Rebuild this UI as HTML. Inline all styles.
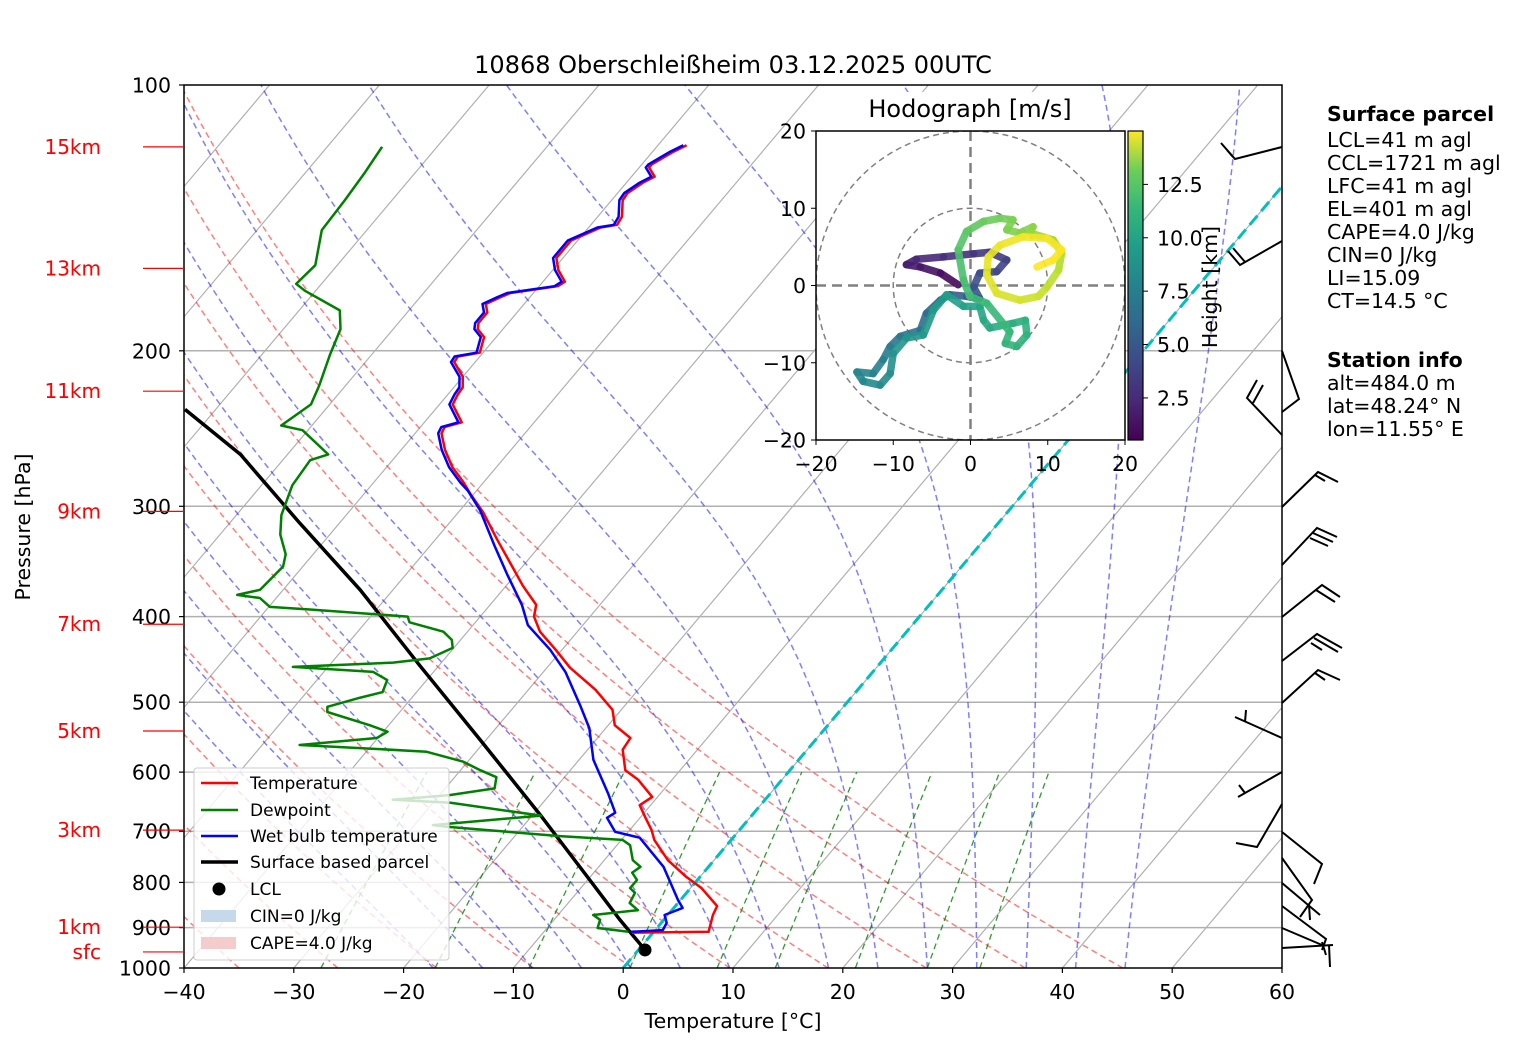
<!DOCTYPE html>
<html><head><meta charset="utf-8">
<style>
html,body{margin:0;padding:0;background:#fff;}
svg{display:block;font-family:"DejaVu Sans","Liberation Sans",sans-serif;}
</style></head>
<body>
<svg id="chart" width="1517" height="1054" viewBox="0 0 1517 1054" xmlns="http://www.w3.org/2000/svg">
<defs>
<clipPath id="mainClip"><rect x="184" y="85" width="1098" height="883"/></clipPath>
<clipPath id="hodoClip"><rect x="816" y="131" width="309" height="309"/></clipPath>
<linearGradient id="viridis" x1="0" y1="1" x2="0" y2="0">
<stop offset="0" stop-color="#440154"/><stop offset="0.125" stop-color="#482878"/><stop offset="0.25" stop-color="#3e4989"/><stop offset="0.375" stop-color="#31688e"/><stop offset="0.5" stop-color="#26828e"/><stop offset="0.625" stop-color="#1f9e89"/><stop offset="0.75" stop-color="#35b779"/><stop offset="0.875" stop-color="#6ece58"/><stop offset="1" stop-color="#fde725"/>
</linearGradient>
</defs>
<rect width="1517" height="1054" fill="#fff"/>
<text x="733" y="73" font-size="24" text-anchor="middle">10868 Oberschleißheim 03.12.2025 00UTC</text>
<g id="bg" clip-path="url(#mainClip)"></g>
<g id="series" clip-path="url(#mainClip)"></g>
<g id="axes"></g>
<g id="barbs" stroke="#000" stroke-width="2" fill="none" stroke-linejoin="miter">
<polyline points="1282,147 1235,159 1221,143"/><line x1="1233" y1="157" x2="1227" y2="150"/>
<polyline points="1282,241 1240,265 1228,251"/><line x1="1245" y1="262" x2="1233" y2="248"/>
<polyline points="1282,351 1299,399 1282,412"/>
<polyline points="1282,435 1247,398 1257,380"/><line x1="1253" y1="403" x2="1263" y2="385"/>
<polyline points="1282,507 1318,472 1338,482"/><line x1="1315" y1="475" x2="1325" y2="481"/>
<polyline points="1282,565 1317,528 1337,537"/><line x1="1313" y1="533" x2="1333" y2="542"/><line x1="1310" y1="538" x2="1328" y2="546"/>
<polyline points="1282,617 1322,585 1340,597"/><line x1="1316" y1="590" x2="1335" y2="602"/>
<polyline points="1282,661 1317,634 1342,648"/><line x1="1314" y1="638" x2="1338" y2="652"/><line x1="1311" y1="643" x2="1322" y2="650"/>
<polyline points="1282,703 1318,670 1340,680"/><line x1="1315" y1="673" x2="1325" y2="680"/>
<polyline points="1282,738 1235,717"/><line x1="1245" y1="722" x2="1246" y2="710"/>
<polyline points="1282,772 1238,797"/><line x1="1245" y1="793" x2="1239" y2="785"/>
<polyline points="1282,804 1257,847 1236,843"/>
<polyline points="1282,832 1322,864 1314,884"/>
<polyline points="1282,858 1312,900 1300,917"/><line x1="1309" y1="905" x2="1310" y2="920"/>
<polyline points="1282,883 1320,915"/>
<polyline points="1282,906 1326,939 1322,950"/>
<polyline points="1282,928 1322,945"/>
<polyline points="1282,948 1333,945"/><line x1="1329" y1="945" x2="1330" y2="967"/><line x1="1322" y1="942" x2="1326" y2="955"/>
</g>
<g id="legend" font-size="17">
<rect x="194" y="768" width="255" height="192" fill="#fff" fill-opacity="0.8" stroke="#ccc" stroke-width="1" rx="3"/>
<g><line x1="201" y1="783" x2="238" y2="783" stroke="red" stroke-width="2.5"/><text x="250" y="789">Temperature</text></g>
<g><line x1="201" y1="810" x2="238" y2="810" stroke="green" stroke-width="2.5"/><text x="250" y="816">Dewpoint</text></g>
<g><line x1="201" y1="836" x2="238" y2="836" stroke="blue" stroke-width="2.5"/><text x="250" y="842">Wet bulb temperature</text></g>
<g><line x1="201" y1="862" x2="238" y2="862" stroke="#000" stroke-width="3.5"/><text x="250" y="868">Surface based parcel</text></g>
<g><circle cx="219" cy="889" r="6.5" fill="#000"/><text x="250" y="895">LCL</text></g>
<g><rect x="201" y="910" width="35" height="12" fill="#c5d9ea"/><text x="250" y="922">CIN=0 J/kg</text></g>
<g><rect x="201" y="937" width="35" height="12" fill="#f4cccc"/><text x="250" y="949">CAPE=4.0 J/kg</text></g>
</g>
<g id="hodo"></g>
<g id="info" font-size="20.5">
<text x="1327" y="121" font-weight="bold">Surface parcel</text>
<text x="1327" y="147">LCL=41 m agl</text>
<text x="1327" y="170">CCL=1721 m agl</text>
<text x="1327" y="193">LFC=41 m agl</text>
<text x="1327" y="216">EL=401 m agl</text>
<text x="1327" y="239">CAPE=4.0 J/kg</text>
<text x="1327" y="262">CIN=0 J/kg</text>
<text x="1327" y="285">LI=15.09</text>
<text x="1327" y="308">CT=14.5 °C</text>
<text x="1327" y="367" font-weight="bold">Station info</text>
<text x="1327" y="390">alt=484.0 m</text>
<text x="1327" y="413">lat=48.24° N</text>
<text x="1327" y="436">lon=11.55° E</text>
</g>
</svg>
<script>
// ---------- data ----------
const tempP = [912,910,871,851,812,787,755,716,698,676,654,640,612,597,566,549,531,510,484,457,436,416,400,388,369,352,327,305,290,282,271,259,248,244,241,230,224,220,214,206,203,201,193,189,186,181,177,174,172,169,167,162,157,150,145,144,141,135,132.5,129,127,124,123,119,117];
const tempT = [-1.9,5.0,4.1,3.8,1.0,-1.4,-4.2,-7.0,-8.0,-9.5,-11.0,-10.5,-13.1,-15.0,-16.8,-17.0,-19.4,-20.8,-23.9,-27.9,-30.6,-33.4,-35.1,-35.8,-38.5,-40.8,-44.4,-47.7,-50.4,-51.8,-54.0,-56.0,-57.6,-57.8,-56.6,-58.8,-59.1,-59.2,-60.0,-61.9,-62.0,-60.3,-61.1,-62.3,-62.7,-62.7,-63.5,-62.7,-62.1,-58.3,-58.0,-59.5,-60.6,-60.6,-58.9,-57.6,-57.8,-59.0,-59.1,-58.5,-57.9,-59.1,-59.1,-58.1,-57.4];
const wetP = [910,906,889,871,855,838,768,712,701,676,667,634,581,535,504,462,436,409,388,359,332,303,288,282,271,259,248,244,241,230,224,220,214,206,203,201,193,189,186,181,177,174,172,169,167,162,157,150,145,144,141,135,132.5,129,127,124,123,119,117];
const wetT = [-2.1,0.7,0.5,-0.3,0.8,-0.2,-4.1,-8.5,-11.2,-13.0,-12.65,-14.8,-18.7,-21.5,-24.1,-28.0,-31.1,-35.0,-37.1,-40.7,-44.2,-48.2,-50.8,-52.1,-54.3,-56.3,-57.9,-58.1,-56.9,-59.1,-59.4,-59.5,-60.3,-62.2,-62.3,-60.6,-61.4,-62.6,-63.0,-63.0,-63.8,-63.0,-62.4,-58.6,-58.3,-59.8,-60.9,-60.9,-59.2,-57.9,-58.1,-59.3,-59.4,-58.8,-58.2,-59.4,-59.4,-58.4,-57.7];
const dewP = [910,901,882,871,860,844,822,812,795,780,768,755,726,716,709,692,689,672,650,645,637,626,608,597,584,569,565,559,549,540,531,513,506,494,487,472,462,456,451,446,434,425,416,406,400,393,390,381,378,373,351,340,323,307,284,266,262,246,243,230,219,202,189,180,171,168,160,146,135,125.5,117.5];
const dewT = [-2.3,-5.4,-5.8,-6.8,-3.1,-4.4,-4.7,-5.5,-5.5,-6.5,-6.2,-7.4,-8.8,-9.9,-15.9,-26.9,-28.3,-19.2,-28.4,-33.9,-29.1,-25.5,-26.2,-28.2,-30.4,-34.5,-39.0,-46.6,-40.1,-39.6,-41.7,-46.6,-47.0,-44.7,-43.1,-43.6,-45.5,-53.2,-44.4,-41.4,-40.1,-40.8,-42.2,-46.0,-46.6,-55.7,-59.9,-61.5,-63.8,-62.1,-61.8,-62.5,-64.5,-65.9,-67.2,-67.5,-66.3,-70.5,-72.8,-71.7,-72.4,-73.8,-74.8,-76.3,-81.0,-82.3,-82.0,-84.1,-84.3,-84.6,-85.0];
const parcelP = [954,882,795,671,552,454,373,313,262,233];
const parcelT = [0.6,-4.0,-9.8,-19.3,-30.5,-41.8,-53.0,-63.7,-74.3,-82.8];
const lclP = [954];
const lclT = [0.6];
const pressureTicks = [100,200,300,400,500,600,700,800,900,1000];
const tempTicks = [-40,-30,-20,-10,0,10,20,30,40,50,60];
const heightLabels = ['15km','13km','11km','9km','7km','5km','3km','1km','sfc'];
const heightP = [117.5,161.3,222.2,304.0,408.0,539,698,899,959];
const dryT0 = [-35,-26,-17,-8.2,0.8,9.7,18.65,27.6,36.6,45.5];
const moistT0 = [-17.3,-12.8,-8.3,-3.8,0.7,5.2,9.7,14.2,18.7,23.2,27.7,32.2,36.7,41.2,45.7];
const mixRatios = [0.0004,0.001,0.002,0.004,0.007,0.01,0.016,0.024,0.032];
const hodoU = [-1.6,-3.9,-6.5,-8.3,-7.0,-3.5,0.4,2.5,4.7,3.4,1.2,0.4,1.2,-0.5,-2.7,-3.9,-5.7,-6.5,-9.1,-10.4,-11.3,-12.6,-14.7,-13.9,-11.7,-10.4,-10.0,-8.3,-6.1,-4.8,-3.1,-0.9,1.2,1.7,2.5,5.5,7.1,7.3,6.0,4.5,5.1,2.1,-0.1,-0.9,-1.6,-0.5,1.7,3.8,5.5,4.7,6.4,8.1,7.7,10.7,11.8,11.4,9.9,8.8,6.4,3.4,2.1,2.3,3.8,6.8,9.9,11.8,10.7,8.6];
const hodoV = [0.1,1.6,2.4,2.7,3.4,3.7,4.1,4.3,3.3,1.8,1.6,-0.2,-1.7,-1.4,-1.2,-1.9,-3.6,-5.8,-6.6,-7.9,-9.6,-11.4,-11.2,-12.4,-12.9,-11.4,-8.8,-6.8,-6.4,-3.2,-1.2,-2.7,-2.7,-4.5,-5.5,-4.9,-4.5,-6.4,-7.9,-7.5,-6.0,-2.3,-1.4,0.7,4.6,7.0,8.3,8.7,8.5,7.2,6.8,7.6,6.8,5.9,4.2,2.0,-0.2,-1.4,-1.9,-1.0,1.4,3.7,5.2,6.3,6.1,4.6,3.3,2.4];
const hodoH = [0.6,1.0,1.3,1.6,1.9,2.3,2.7,3.0,3.3,3.6,3.9,4.2,4.4,4.6,4.9,5.2,5.5,5.8,6.1,6.4,6.7,6.9,7.1,7.3,7.5,7.6,7.8,8.0,8.1,8.3,8.5,8.7,8.9,9.1,9.3,9.5,9.6,9.8,9.9,10.0,10.1,10.3,10.4,10.6,10.9,11.2,11.5,11.8,12.0,12.1,12.2,12.4,12.6,12.9,13.2,13.4,13.6,13.8,14.0,14.2,14.4,14.5,14.6,14.7,14.8,14.9,15.0,15.0];
const hodoTicks = [-20,-10,0,10,20];
const cbarTicks = [2.5,5.0,7.5,10.0,12.5];

// ---------- axes functions ----------
const X0=184,X1=1282,Y0=968,Y1=85,PH=883,SX=10.98,SK=0.843;
function yOf(p){return Y0-Math.log10(1000/p)*PH;}
function xOf(T,p){return X0+(T+40)*SX+(Y0-yOf(p))*SK;}
const NS='http://www.w3.org/2000/svg';
function mk(tag,attrs,parent){const e=document.createElementNS(NS,tag);for(const k in attrs)e.setAttribute(k,attrs[k]);parent.appendChild(e);return e;}
const bg=document.getElementById('bg'), ser=document.getElementById('series'), ax=document.getElementById('axes'), hodo=document.getElementById('hodo');
function pathFrom(P,T){let d='';for(let i=0;i<P.length;i++){d+=(i?'L':'M')+xOf(T[i],P[i]).toFixed(1)+','+yOf(P[i]).toFixed(1);}return d;}

pressureTicks.forEach(p=>{if(p===100||p===1000)return;
const l=mk('line',{x1:X0,x2:X1,y1:yOf(p),y2:yOf(p),stroke:'#b0b0b0','stroke-width':1.5},bg);

});
for(let T=-130;T<=60;T+=10){
const l=mk('line',{x1:xOf(T,1000),y1:yOf(1000),x2:xOf(T,100),y2:yOf(100),stroke:'#b0b0b0','stroke-width':1.2},bg);

}
const plev=[];for(let p=1000;p>=100;p-=10)plev.push(p);
dryT0.forEach(t0=>{const T=plev.map(p=>(t0+273.15)*Math.pow(p/1000,0.2857)-273.15);
const e=mk('path',{d:pathFrom(plev,T),stroke:'#ff0000','stroke-opacity':0.5,'stroke-width':1.5,'stroke-dasharray':'6,4',fill:'none'},bg);

});
moistT0.forEach(t0=>{let T=t0+273.15;const Ps=[],Ts=[];
for(let p=1000;p>=100;p-=5){Ps.push(p);Ts.push(T-273.15);
const es=6.112*Math.exp(17.67*(T-273.15)/(T-29.65));const rs=0.622*es/Math.max(p-es,1);
const num=287*T+2.501e6*rs;const den=1005+2.501e6*2.501e6*rs*0.622/(287*T*T);T-=num/(den*p)*5;}
const e=mk('path',{d:pathFrom(Ps,Ts),stroke:'#0000ff','stroke-opacity':0.5,'stroke-width':1.5,'stroke-dasharray':'6,4',fill:'none'},bg);

});
mixRatios.forEach(w=>{const Ps=[],Ts=[];for(let p=1000;p>=600;p-=20){const e=p*w/(0.622+w);const l=Math.log(e/6.112);Ps.push(p);Ts.push(243.5*l/(17.67-l));}
const e=mk('path',{d:pathFrom(Ps,Ts),stroke:'#008000','stroke-opacity':0.8,'stroke-width':1.3,'stroke-dasharray':'6,4',fill:'none'},bg);

});
const zl=mk('line',{x1:xOf(0,1000),y1:yOf(1000),x2:xOf(0,100),y2:yOf(100),stroke:'#00bfbf','stroke-width':3,'stroke-dasharray':'12,6'},bg);



const sp=mk('path',{d:pathFrom(parcelP,parcelT),stroke:'#000','stroke-width':3.5,fill:'none'},ser);


const dp=mk('path',{d:pathFrom(dewP,dewT),stroke:'green','stroke-width':2.5,fill:'none','stroke-linejoin':'round'},ser);


const tp=mk('path',{d:pathFrom(tempP,tempT),stroke:'red','stroke-width':2.5,fill:'none','stroke-linejoin':'round'},ser);


const wp=mk('path',{d:pathFrom(wetP,wetT),stroke:'blue','stroke-width':2.5,fill:'none','stroke-linejoin':'round'},ser);


const lc=mk('circle',{cx:xOf(lclT[0],lclP[0]),cy:yOf(lclP[0]),r:6.5,fill:'#000'},ser);



const fr=mk('rect',{x:X0,y:Y1,width:X1-X0,height:Y0-Y1,fill:'none',stroke:'#000','stroke-width':1.5},ax);


pressureTicks.forEach(p=>{mk('line',{x1:X0-5,x2:X0,y1:yOf(p),y2:yOf(p),stroke:'#000','stroke-width':1.2},ax);
const t=mk('text',{x:X0-13,y:yOf(p)+7.5,'font-size':20.5,'text-anchor':'end'},ax);t.textContent=p;

});
tempTicks.forEach(T=>{const x=X0+(T+40)*SX;mk('line',{x1:x,x2:x,y1:Y0,y2:Y0+5,stroke:'#000','stroke-width':1.2},ax);
const t=mk('text',{x:x,y:Y0+31,'font-size':20.5,'text-anchor':'middle'},ax);t.textContent=(T<0?'\u2212'+(-T):T);

});
heightLabels.forEach((s,i)=>{const y=yOf(heightP[i]);mk('line',{x1:143,x2:X0,y1:y,y2:y,stroke:'red','stroke-width':1.2},ax);
const t=mk('text',{x:101,y:y+7,'font-size':20,'text-anchor':'end',fill:'red'},ax);t.textContent=s;

});
const xl=mk('text',{x:733,y:1028,'font-size':20.5,'text-anchor':'middle'},ax);xl.textContent='Temperature [°C]';


const yl=mk('text',{x:30,y:527,'font-size':20.5,'text-anchor':'middle',transform:'rotate(-90 30 527)'},ax);yl.textContent='Pressure [hPa]';



// ---------- hodograph ----------
const HX0=816,HY0=131,HS=309,HC=HS/40;
function hx(u){return HX0+(u+20)*HC;}
function hy(v){return HY0+(20-v)*HC;}
mk('rect',{x:855,y:92,width:232,height:39,fill:'#fff'},hodo);
mk('rect',{x:HX0,y:HY0,width:HS,height:HS,fill:'#fff'},hodo);
const ht=mk('text',{x:970,y:117,'font-size':24,'text-anchor':'middle'},hodo);ht.textContent='Hodograph [m/s]';


const hg=mk('g',{'clip-path':'url(#hodoClip)'},hodo);
[10,20].forEach(r=>{mk('circle',{cx:hx(0),cy:hy(0),r:r*HC,fill:'none',stroke:'#808080','stroke-width':1.5,'stroke-dasharray':'6,4'},hg);});
mk('line',{x1:HX0,x2:HX0+HS,y1:hy(0),y2:hy(0),stroke:'#808080','stroke-width':2.5,'stroke-dasharray':'10,6'},hg);
mk('line',{x1:hx(0),x2:hx(0),y1:HY0,y2:HY0+HS,stroke:'#808080','stroke-width':2.5,'stroke-dasharray':'10,6'},hg);
const vir=[[68,1,84],[72,40,120],[62,73,137],[49,104,142],[38,130,142],[31,158,137],[53,183,121],[110,206,88],[181,222,43],[253,231,37]];
function vcol(h){let f=(h-0.5)/14.5;f=Math.max(0,Math.min(1,f))*(vir.length-1);const i=Math.min(Math.floor(f),vir.length-2),r=f-i;const c=vir[i].map((a,k)=>Math.round(a+(vir[i+1][k]-a)*r));return 'rgb('+c.join(',')+')';}
for(let i=0;i<hodoU.length-1;i++){
const s=mk('line',{x1:hx(hodoU[i]),y1:hy(hodoV[i]),x2:hx(hodoU[i+1]),y2:hy(hodoV[i+1]),stroke:vcol((hodoH[i]+hodoH[i+1])/2),'stroke-width':7.5,'stroke-linecap':'round','stroke-opacity':0.9},hg);

}
mk('rect',{x:HX0,y:HY0,width:HS,height:HS,fill:'none',stroke:'#000','stroke-width':1.5},hodo);
hodoTicks.forEach(v=>{mk('line',{x1:HX0-5,x2:HX0,y1:hy(v),y2:hy(v),stroke:'#000'},hodo);
const t=mk('text',{x:HX0-10,y:hy(v)+7.5,'font-size':20.5,'text-anchor':'end'},hodo);t.textContent=(v<0?'\u2212'+(-v):v);


mk('line',{x1:hx(v),x2:hx(v),y1:HY0+HS,y2:HY0+HS+5,stroke:'#000'},hodo);
const t2=mk('text',{x:hx(v),y:HY0+HS+31,'font-size':20.5,'text-anchor':'middle'},hodo);t2.textContent=(v<0?'\u2212'+(-v):v);

});
const cb=mk('rect',{x:1128,y:131,width:15,height:309,fill:'url(#viridis)',stroke:'#000','stroke-width':1.2},hodo);


function cy(h){return 440-(h-0.53)*(309/14.47);}
cbarTicks.forEach(h=>{mk('line',{x1:1143,x2:1148,y1:cy(h),y2:cy(h),stroke:'#000'},hodo);
const t=mk('text',{x:1157,y:cy(h)+7.5,'font-size':20.5},hodo);t.textContent=h.toFixed(1);

});
const cl=mk('text',{x:1217,y:287,'font-size':20.5,'text-anchor':'middle',transform:'rotate(-90 1217 287)'},hodo);cl.textContent='Height [km]';


</script>
</body></html>
